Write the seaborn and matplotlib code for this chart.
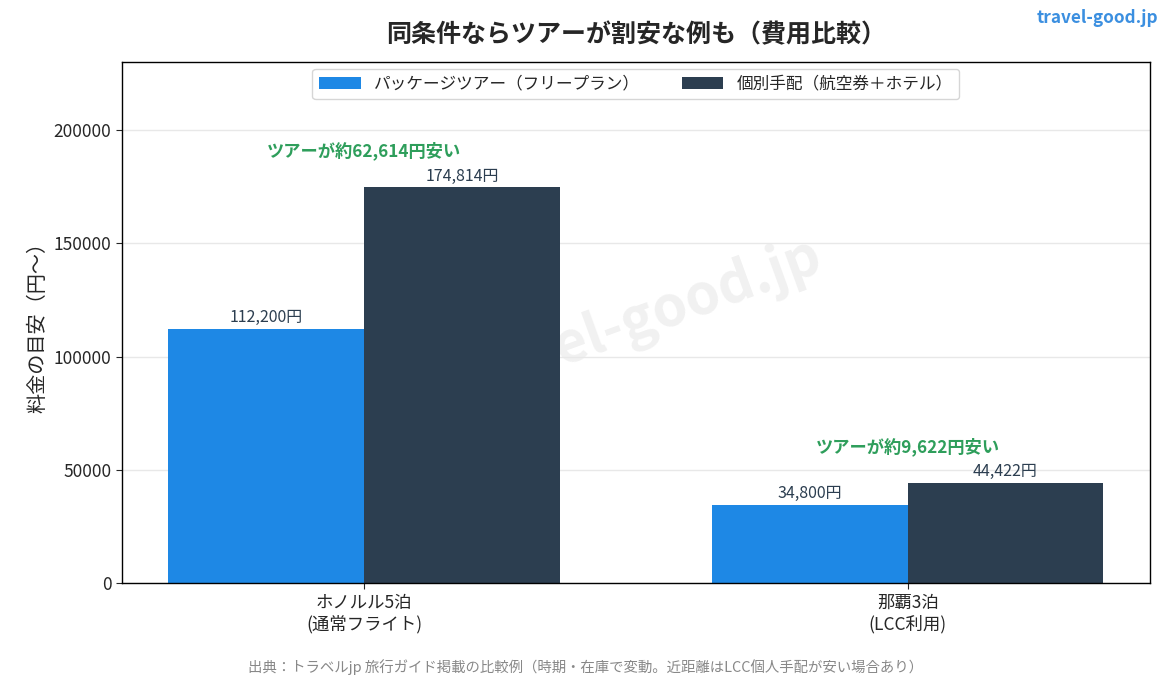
import pandas as pd
import seaborn as sns
import matplotlib.pyplot as plt

sns.set_style('white')
plt.rcParams['font.family'] = ['Noto Sans CJK JP', 'DejaVu Sans']

routes   = ['ホノルル5泊\n(通常フライト)', '那覇3泊\n(LCC利用)']
plans    = ['パッケージツアー（フリープラン）', '個別手配（航空券＋ホテル）']
tour     = [112200, 34800]
separate = [174814, 44422]
yticks   = [0, 50000, 100000, 150000, 200000]
colors   = ['#1e88e5', '#2c3e50']

df = pd.DataFrame({
    'route': routes * 2,
    'plan':  [plans[0]] * 2 + [plans[1]] * 2,
    'price': tour + separate,
})

fig, ax = plt.subplots(figsize=(11.7, 6.76), dpi=100)
fig.subplots_adjust(left=0.104, right=0.983, top=0.908, bottom=0.137)

# watermark behind the bars
ax.text(0.5, 0.5, 'travel-good.jp', transform=ax.transAxes, ha='center', va='center',
        fontsize=40, fontweight='bold', color='#b0b0b0', alpha=0.18, rotation=20, zorder=0)

sns.barplot(data=df, x='route', y='price', hue='plan', palette=colors,
            width=0.72, saturation=1, linewidth=0, ax=ax, zorder=2)

for cont in ax.containers:
    ax.bar_label(cont, labels=[f'{v:,.0f}円' for v in cont.datavalues],
                 padding=2, fontsize=11.5, color='#2c3e50')

for i in range(len(routes)):
    diff = separate[i] - tour[i]
    ax.text(i, max(tour[i], separate[i]) + 16000, f'ツアーが約{diff:,}円安い',
            ha='center', va='center', fontsize=12.4, fontweight='bold', color='#2e9e5b')

ax.set_xlim(-0.446, 1.446)
ax.set_ylim(0, 230000)
ax.set_yticks(yticks)
ax.set_xlabel('')
ax.set_ylabel('料金の目安（円〜）', fontsize=14.5)
ax.tick_params(axis='both', length=4, left=True, bottom=True)
ax.tick_params(axis='x', labelsize=12.5)
ax.tick_params(axis='y', labelsize=12.5)
ax.yaxis.grid(True, color='#e8e8e8', linewidth=1)
ax.set_axisbelow(True)
for s in ax.spines.values():
    s.set_color('black')
    s.set_linewidth(1)

ax.legend(loc='upper center', ncol=2, fontsize=12, frameon=True, edgecolor='#cccccc',
          borderaxespad=0.4, columnspacing=2.5, handlelength=2.5)
ax.set_title('同条件ならツアーが割安な例も（費用比較）', fontsize=18, fontweight='bold', pad=14)

fig.text(0.99, 0.973, 'travel-good.jp', ha='right', va='center', fontsize=12.4,
         fontweight='bold', color='#3b8fe0')
fig.text(0.5, 0.013, '出典：トラベルjp 旅行ガイド掲載の比較例（時期・在庫で変動。近距離はLCC個人手配が安い場合あり）',
         ha='center', va='center', fontsize=10.4, color='#888888')

plt.savefig('out.png', dpi=100)
